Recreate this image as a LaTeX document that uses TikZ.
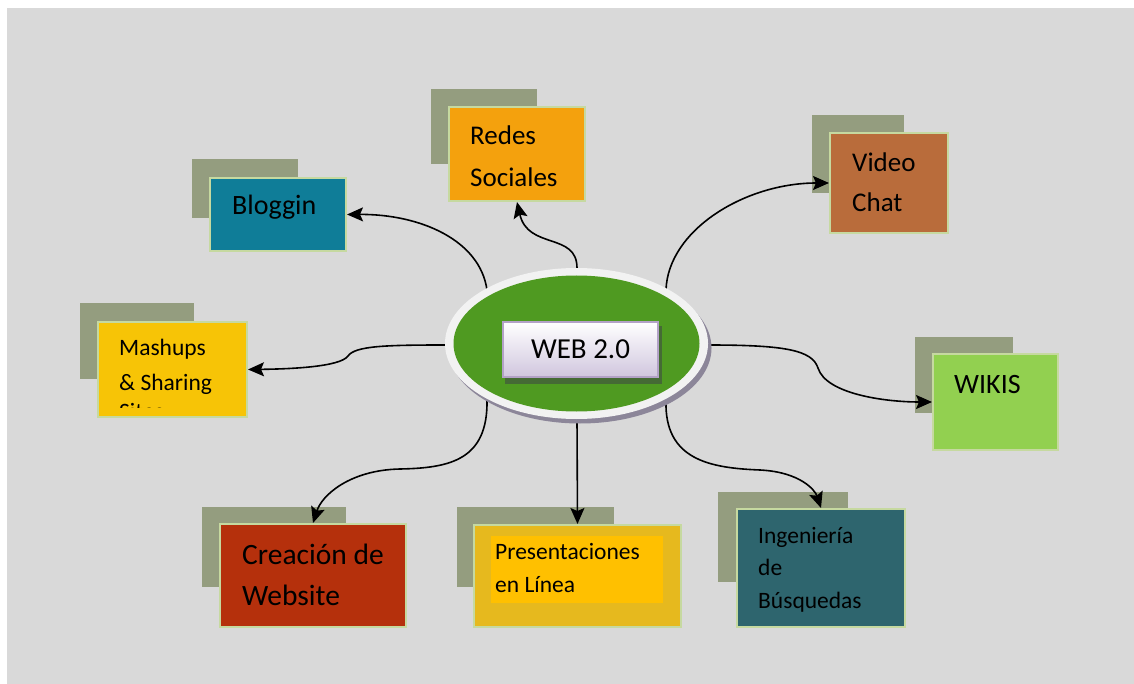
\documentclass[tikz,border=0pt]{standalone}
\usepackage{fontspec}
\setmainfont{Carlito}
\usetikzlibrary{positioning,arrows.meta,shapes.geometric}
\definecolor{canvasgray}{HTML}{D9D9D9}
\definecolor{backolive}{HTML}{949D7F}
\definecolor{cardedge}{HTML}{C6D9A0}
\definecolor{blogteal}{HTML}{0F7D98}
\definecolor{redesorange}{HTML}{F4A10D}
\definecolor{videobrown}{HTML}{B96C3B}
\definecolor{wikigreen}{HTML}{92D050}
\definecolor{mashgold}{HTML}{F7C406}
\definecolor{webred}{HTML}{B5300C}
\definecolor{presgold}{HTML}{E6B91E}
\definecolor{presamber}{HTML}{FFC000}
\definecolor{busqteal}{HTML}{2E656E}
\definecolor{hubgreen}{HTML}{4F9A21}
\definecolor{hubring}{HTML}{F2F2F2}
\definecolor{hubshade}{HTML}{8C8699}
\definecolor{labeledge}{HTML}{B3A2C7}
\definecolor{labellav}{HTML}{D0C6DE}
\definecolor{labelshade}{HTML}{456A35}

\begin{document}
\begin{tikzpicture}[x=1pt, y=-1pt,
  card/.style={draw=cardedge, line width=2pt, inner sep=0pt},
  backcard/.style={fill=backolive},
  link/.style={line width=1.6pt, -{Stealth[length=16pt,width=14pt,inset=3pt]}},
  lbl/.style={anchor=base west, inner sep=0pt, align=left}]
  \useasboundingbox (0,0) rectangle (1134,684);
  \fill[canvasgray] (7,8) rectangle (1134,684);

  \fill[backcard] (192,159) rectangle (298,218);
  \fill[backcard] (431,89) rectangle (537,164);
  \fill[backcard] (812,115) rectangle (904,193);
  \fill[backcard] (915,337) rectangle (1013,413);
  \fill[backcard] (80,303) rectangle (194,379);
  \fill[backcard] (202,507) rectangle (346,587);
  \fill[backcard] (457,507) rectangle (614,587);
  \fill[backcard] (718,492) rectangle (848,582);

  \node[card, fill=blogteal, minimum width=136, minimum height=73] (bloggin) at (278,214.5) {};
  \node[card, fill=redesorange, minimum width=136, minimum height=94] (redes) at (517,154) {};
  \node[card, fill=videobrown, minimum width=118, minimum height=100] (video) at (889,183) {};
  \node[card, fill=wikigreen, minimum width=125, minimum height=96] (wikis) at (995.5,402) {};
  \node[card, fill=mashgold, minimum width=149, minimum height=95] (mashups) at (172.5,369.5) {};
  \node[card, fill=webred, minimum width=186, minimum height=103] (creacion) at (313,575.5) {};
  \node[card, fill=presgold, minimum width=207, minimum height=102] (present) at (577.5,576) {};
  \node[fill=presamber, minimum width=172, minimum height=67, inner sep=0pt] (presinner) at (577,569.5) {};
  \node[card, fill=busqteal, minimum width=168, minimum height=118] (busq) at (821,568) {};

  \node[lbl, font=\fontsize{28}{34}\selectfont] (bloggintxt) at (232,215) {Bloggin};
  \node[lbl, font=\fontsize{27}{42}\selectfont] (redestxt) at (470,187) {Redes\\Sociales};
  \node[lbl, font=\fontsize{27}{40}\selectfont] (videotxt) at (852,212) {Video\\Chat};
  \node[lbl, font=\fontsize{28}{34}\selectfont] (wikistxt) at (954,393) {WIKIS};
  \begin{scope}
    \clip (99,323) rectangle (246,407);
    \node[lbl, font=\fontsize{23.5}{35}\selectfont] (mashtxt) at (119,390) {Mashups\\\& Sharing};
    \node[lbl, font=\fontsize{23.5}{35}\selectfont] (mashtail) at (119,419) {Sites};
  \end{scope}
  \node[lbl, font=\fontsize{29.5}{41}\selectfont] (creaciontxt) at (242,605) {Creación de\\Website};
  \node[lbl, font=\fontsize{23.5}{33}\selectfont] (presenttxt) at (495,592) {Presentaciones\\en Línea};
  \node[lbl, font=\fontsize{23.5}{32.5}\selectfont] (busqtxt) at (758,608) {Ingeniería\\de\\Búsquedas};

  \coordinate (hubnw) at (487,290);
  \coordinate (hubn) at (577,268);
  \coordinate (hubne) at (666,290);
  \coordinate (hube) at (708,345);
  \coordinate (hubw) at (445,345);
  \coordinate (hubsw) at (487,400);
  \coordinate (hubs) at (577,420);
  \coordinate (hubse) at (666,400);

  \draw[link] (hubnw) .. controls (480,240) and (420,214) .. (bloggin.east);
  \draw[link] (hubn) .. controls (577,232) and (528,250) .. (redes.south);
  \draw[link] (hubne) .. controls (668,230) and (745,183) .. (video.west);
  \draw[link] (hube) .. controls (785,345) and (812,350) .. (818,368)
    .. controls (826,394) and (885,402) .. (wikis.west);
  \draw[link] (hubw) .. controls (385,345) and (355,346) .. (348,356)
    .. controls (340,367) and (290,369) .. (mashups.east);
  \draw[link] (hubsw) .. controls (488,460) and (450,468) .. (400,469)
    .. controls (350,470) and (322,495) .. (creacion.north);
  \draw[link] (hubs) -- (present.north);
  \draw[link] (hubse) .. controls (664,460) and (710,468) .. (760,470)
    .. controls (800,472) and (815,490) .. (busq.north);

  \fill[hubshade] (580,348) ellipse [x radius=131.5, y radius=75.5];
  \node[ellipse, fill=hubring, minimum width=263, minimum height=151, inner sep=0pt] (hub) at (576.5,343.5) {};
  \node[ellipse, fill=hubgreen, minimum width=246, minimum height=136, inner sep=0pt] (hubcore) at (hub.center) {};
  \fill[labelshade] (505,326) rectangle (662,384);
  \node[draw=labeledge, line width=1.5pt, top color=white, bottom color=labellav,
    minimum width=155, minimum height=55, inner sep=0pt,
    font=\fontsize{29}{35}\selectfont] (weblabel) at (580.5,349.5) {WEB 2.0};
\end{tikzpicture}
\end{document}
